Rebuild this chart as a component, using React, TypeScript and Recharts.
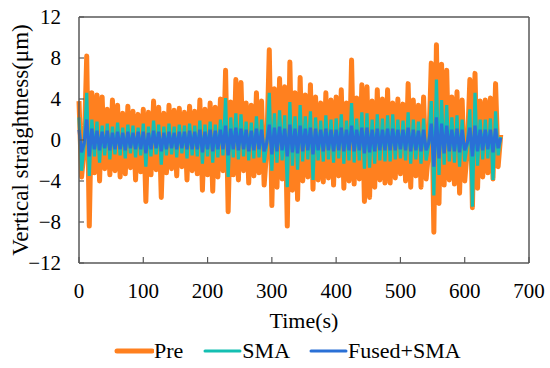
import React from 'react';
import { LineChart, Line, XAxis, YAxis, Legend, ReferenceLine } from 'recharts';

const timeStep = 4; // seconds between samples

const pre = [
  3.8, -3.6, -1.0, 8.2, -8.4, 4.6, -3.2, 4.4, -4.0, 4.2,
  -2.8, 3.0, -3.4, 3.9, -3.0, 3.4, -3.6, 2.6, -3.3, 3.3,
  -2.7, 2.8, -3.9, 2.5, -3.1, 3.0, -6.0, 2.7, -3.4, 3.8,
  -2.9, 3.2, -5.6, 2.6, -3.2, 3.4, -2.8, 2.9, -3.5, 3.1,
  -2.6, 2.7, -3.9, 3.3, -3.0, 2.8, -3.3, 3.9, -4.9, 3.0,
  -3.4, 3.6, -5.0, 3.2, -3.6, 4.0, -3.0, 6.8, -7.0, 3.7,
  -3.4, 5.9, -3.9, 5.6, -3.0, 3.6, -4.2, 3.4, -3.5, 4.6,
  -3.2, 3.8, -4.4, -1.0, 8.8, -6.4, 5.0, -4.6, 6.0, -3.8,
  5.2, -8.4, 7.6, -4.9, 4.6, -5.8, 6.1, -4.0, 4.4, -3.6,
  5.4, -4.8, 4.2, -3.9, 3.6, -4.1, 4.6, -3.7, 3.9, -4.4,
  4.2, -3.5, 4.9, -4.7, 3.6, -4.0, 7.8, -4.3, 4.1, -3.8,
  5.4, -6.0, 5.2, -5.6, 3.8, -4.6, 4.9, -3.9, 4.0, -4.2,
  4.9, -4.2, 3.6, -3.7, 4.0, -3.3, 3.5, -4.0, 5.5, -4.6,
  3.9, -3.5, 3.4, -4.6, 4.2, -3.8, -1.0, 7.5, -9.0, 9.3,
  -6.2, 7.4, -4.4, 6.8, -3.9, 4.2, -4.3, 4.7, -5.2, 3.9,
  -4.0, -1.0, 5.9, -6.6, 6.5, -4.7, 3.8, -3.6, 3.9, -3.2,
  4.1, -3.8, 5.5, -2.6, 0.5,
];

const sma = [
  2.2, -3.0, -0.5, 4.6, -3.5, 2.0, -1.6, 1.8, -2.2, 1.4,
  -1.5, 1.6, -1.9, 1.3, -1.4, 1.7, -1.5, 1.2, -1.8, 1.5,
  -1.3, 1.4, -1.7, 1.2, -1.5, 1.6, -2.6, 1.3, -1.6, 1.9,
  -1.4, 1.5, -2.4, 1.3, -1.5, 1.6, -1.4, 1.3, -1.7, 1.5,
  -1.3, 1.4, -1.8, 1.6, -1.5, 1.4, -1.6, 1.9, -2.3, 1.5,
  -1.6, 1.8, -2.2, 1.5, -1.7, 2.0, -1.5, 4.1, -3.6, 2.2,
  -1.7, 2.6, -1.9, 2.5, -1.6, 1.8, -2.0, 1.7, -1.8, 2.3,
  -1.7, 2.0, -2.2, -0.5, 4.6, -3.0, 2.6, -2.2, 2.9, -2.0,
  2.4, -4.6, 3.7, -2.5, 2.3, -2.9, 3.4, -2.1, 2.3, -1.9,
  2.8, -3.9, 2.2, -2.0, 1.9, -2.1, 2.4, -1.9, 2.0, -2.2,
  2.1, -1.8, 2.5, -2.3, 1.9, -2.0, 3.6, -2.2, 2.1, -2.0,
  2.7, -2.8, 2.6, -2.7, 2.0, -2.3, 2.5, -2.0, 2.1, -2.1,
  2.4, -2.1, 2.5, -1.9, 2.0, -1.8, 1.9, -2.0, 2.7, -2.3,
  2.0, -1.9, 1.8, -2.3, 2.1, -2.0, -0.5, 3.8, -5.4, 5.9,
  -3.4, 3.9, -2.4, 3.4, -2.1, 2.2, -2.2, 2.4, -2.6, 2.0,
  -2.1, -0.5, 3.0, -6.5, 4.6, -2.5, 2.0, -1.9, 2.0, -1.8,
  2.1, -3.9, 2.8, -1.5, 0.3,
];

const fused = [
  1.0, -1.2, -0.3, 2.0, -1.6, 1.1, -0.9, 0.9, -1.0, 0.8,
  -0.8, 0.9, -1.0, 0.7, -0.9, 0.8, -0.9, 0.7, -1.0, 0.8,
  -0.8, 0.7, -0.9, 0.8, -0.9, 0.8, -1.3, 0.7, -0.9, 0.9,
  -0.8, 0.8, -1.1, 0.7, -0.9, 0.8, -0.8, 0.7, -0.9, 0.8,
  -0.8, 0.8, -0.9, 0.9, -0.9, 0.8, -0.9, 1.0, -1.2, 0.8,
  -0.9, 1.0, -1.1, 0.9, -0.9, 1.0, -0.9, 1.4, -1.5, 1.1,
  -0.9, 1.2, -1.0, 1.1, -0.9, 1.0, -1.1, 0.9, -1.0, 1.1,
  -0.9, 1.0, -1.1, -0.3, 1.5, -1.4, 1.2, -1.1, 1.3, -1.0,
  1.1, -1.6, 1.5, -1.2, 1.1, -1.3, 1.4, -1.1, 1.1, -1.0,
  1.2, -1.4, 1.1, -1.0, 1.0, -1.1, 1.1, -1.0, 1.0, -1.1,
  1.0, -1.0, 1.2, -1.1, 1.0, -1.0, 1.4, -1.1, 1.0, -1.0,
  1.2, -1.3, 1.2, -1.2, 1.0, -1.1, 1.1, -1.0, 1.0, -1.0,
  1.1, -1.0, 1.1, -1.0, 1.0, -0.9, 1.0, -1.0, 1.2, -1.1,
  1.0, -1.0, 0.9, -1.1, 1.0, -1.0, -0.3, 1.6, -2.6, 2.2,
  -1.8, 1.6, -1.3, 1.4, -1.1, 1.0, -1.1, 1.1, -1.2, 1.0,
  -1.0, -0.3, 1.2, -1.6, 1.4, -1.1, 1.0, -1.0, 1.0, -0.9,
  1.0, -1.2, 1.1, -0.8, 0.2,
];

const xTicks = [0, 100, 200, 300, 400, 500, 600, 700];
const yTicks = [-12, -8, -4, 0, 4, 8, 12];

const seriesNames = ['Pre', 'SMA', 'Fused+SMA'];

const data = pre.map((p, i) => ({ t: i * timeStep, pre: p, sma: sma[i], fused: fused[i] }));

const COLORS = { pre: '#FF801F', sma: '#14BFB2', fused: '#2A70D6' };
const FONT = '"Liberation Serif", "Times New Roman", serif';
const AXIS = '#595959';

const fmt = (v: number) => String(v).replace('-', '\u2212');

const YTick = (props: any) => {
  const { x, y, payload } = props;
  return (
    <text x={x - 9} y={y} dy="0.35em" textAnchor="end" fill="#000" fontSize={21} fontFamily={FONT}>
      {fmt(payload.value)}
    </text>
  );
};

const legendItems = [
  { name: seriesNames[0], color: COLORS.pre, w: 5, gap: 19 },
  { name: seriesNames[1], color: COLORS.sma, w: 3, gap: 18 },
  { name: seriesNames[2], color: COLORS.fused, w: 3, gap: 0 },
];

const renderLegend = () => (
  <div style={{ display: 'flex', alignItems: 'center', paddingLeft: 114, fontFamily: FONT, fontSize: 22, color: '#000', lineHeight: '24px' }}>
    {legendItems.map((it) => (
      <div key={it.name} style={{ display: 'flex', alignItems: 'center', marginRight: it.gap }}>
        <svg width={40} height={10} style={{ display: 'block' }}>
          <line x1={3} y1={5} x2={38} y2={5} stroke={it.color} strokeWidth={it.w} strokeLinecap="round" />
        </svg>
        <span>{it.name}</span>
      </div>
    ))}
  </div>
);

export default function App() {
  return (
    <div style={{ position: 'absolute', left: 0, top: 0, width: 550, height: 368, background: '#fff' }}>
      <LineChart width={550} height={368} data={data} margin={{ top: 17, right: 21, bottom: 0, left: 0 }}>
        <XAxis
          dataKey="t"
          type="number"
          domain={[0, 700]}
          ticks={xTicks}
          height={105}
          tickSize={-6}
          tickMargin={26}
          axisLine={{ stroke: AXIS, strokeWidth: 1.5 }}
          tickLine={{ stroke: AXIS, strokeWidth: 1.2 }}
          tick={{ fill: '#000', fontSize: 21, fontFamily: FONT }}
          label={{ value: 'Time(s)', position: 'center', dy: 5, style: { fill: '#000', fontSize: 22, fontFamily: FONT } }}
        />
        <YAxis
          type="number"
          domain={[-12, 12]}
          ticks={yTicks}
          width={79}
          tickSize={-5}
          tickMargin={14}
          axisLine={{ stroke: AXIS, strokeWidth: 1.5 }}
          tickLine={{ stroke: AXIS, strokeWidth: 1.2 }}
          tick={<YTick />}
          label={{ value: 'Vertical straightness(\u03bcm)', angle: -90, position: 'center', dx: -20, style: { fill: '#000', fontSize: 23, fontFamily: FONT, textAnchor: 'middle' } }}
        />
        <ReferenceLine y={12} stroke={AXIS} strokeWidth={1.5} ifOverflow="visible" />
        <ReferenceLine x={700} stroke={AXIS} strokeWidth={1.5} ifOverflow="visible" />
        <Legend verticalAlign="middle" align="center" layout="horizontal" content={renderLegend} wrapperStyle={{ top: 339, left: 0, width: 550 }} />
        <Line type="linear" dataKey="pre" name={seriesNames[0]} stroke={COLORS.pre} strokeWidth={5} strokeLinejoin="round" dot={false} isAnimationActive={false} />
        <Line type="linear" dataKey="sma" name={seriesNames[1]} stroke={COLORS.sma} strokeWidth={3.2} dot={false} isAnimationActive={false} />
        <Line type="linear" dataKey="fused" name={seriesNames[2]} stroke={COLORS.fused} strokeWidth={3.2} dot={false} isAnimationActive={false} />
      </LineChart>
    </div>
  );
}
